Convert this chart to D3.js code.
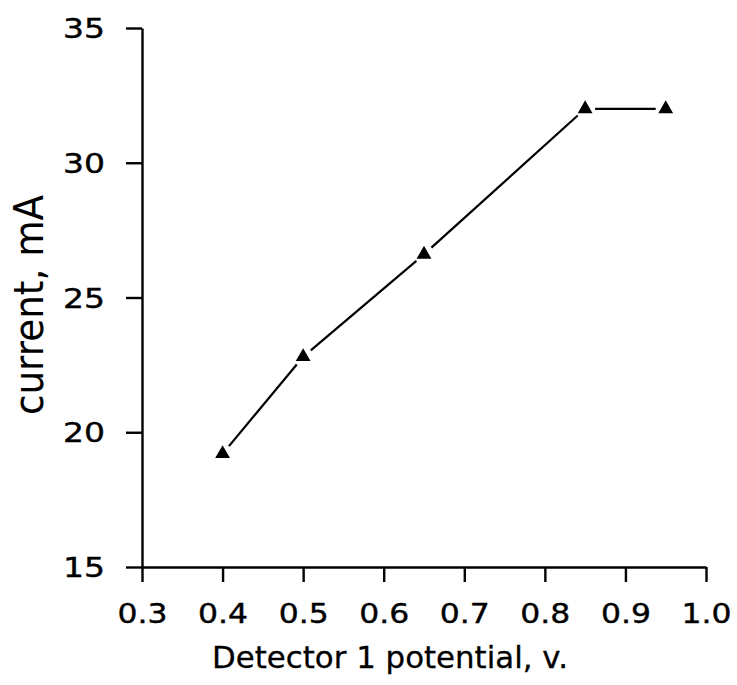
<!DOCTYPE html>
<html>
<head>
<meta charset="utf-8">
<script src="https://cdn.jsdelivr.net/npm/d3@7"></script>
<style>
  body { margin: 0; background: #fff; }
  text { font-family: "DejaVu Sans", sans-serif; fill: #000; }
</style>
</head>
<body>
<script>
// data
const potential = [0.4, 0.5, 0.65, 0.85, 0.95];
const current = [19.2, 22.8, 26.6, 32.0, 32.0];
const xTicks = [0.3, 0.4, 0.5, 0.6, 0.7, 0.8, 0.9, 1.0];
const yTicks = [15, 20, 25, 30, 35];

const width = 737, height = 685;
const svg = d3.select('body').append('svg')
    .attr('width', width)
    .attr('height', height);

const x = d3.scaleLinear().domain([0.3, 1.0]).range([142, 706]);
const y = d3.scaleLinear().domain([15, 35]).range([567, 28]);

// x axis
const xAxis = svg.append('g')
    .attr('transform', 'translate(0,' + y(15) + ')')
    .call(d3.axisBottom(x).tickValues(xTicks).tickSize(15).tickSizeOuter(0).tickFormat(d3.format('.1f')));

// y axis
const yAxis = svg.append('g')
    .attr('transform', 'translate(' + x(0.3) + ',0)')
    .call(d3.axisLeft(y).tickValues(yTicks).tickSize(16).tickSizeOuter(0).tickFormat(d3.format('d')));

[xAxis, yAxis].forEach(g => {
    g.select('.domain').attr('stroke', '#000').attr('stroke-width', 2.4);
    g.selectAll('.tick line').attr('stroke', '#000').attr('stroke-width', 2.4);
    g.selectAll('.tick text')
        .attr('font-size', 27)
        .attr('font-family', '"DejaVu Sans", sans-serif')
        .attr('fill', '#000')
        .attr('stroke', '#000')
        .attr('stroke-width', 0.4);
});
xAxis.selectAll('.tick text')
    .attr('y', 0).attr('dy', 0)
    .attr('transform', 'translate(0,56)')
    .attr('textLength', 50)
    .attr('lengthAdjust', 'spacingAndGlyphs');
yAxis.selectAll('.tick text')
    .attr('x', -37)
    .attr('dy', '0.36em')
    .attr('textLength', 42)
    .attr('lengthAdjust', 'spacingAndGlyphs');

// axis titles
svg.append('text')
    .attr('x', 212)
    .attr('y', 668)
    .attr('font-size', 30)
    .attr('stroke', '#000')
    .attr('stroke-width', 0.3)
    .attr('textLength', 356)
    .attr('lengthAdjust', 'spacingAndGlyphs')
    .text('Detector 1 potential, v.');

svg.append('text')
    .attr('transform', 'translate(43,415) rotate(-90)')
    .attr('font-size', 40)
    .attr('textLength', 220)
    .attr('lengthAdjust', 'spacingAndGlyphs')
    .text('current, mA');

// line segments with small gaps around the markers
const pts = potential.map((p, i) => [x(p), y(current[i])]);
const gap = 10;
const segs = d3.pairs(pts).map(([a, b]) => {
    const dx = b[0] - a[0], dy = b[1] - a[1];
    const len = Math.hypot(dx, dy);
    const ux = dx / len, uy = dy / len;
    return [a[0] + ux * gap, a[1] + uy * gap, b[0] - ux * gap, b[1] - uy * gap];
});

svg.append('g')
    .selectAll('line')
    .data(segs)
    .enter().append('line')
    .attr('x1', d => d[0])
    .attr('y1', d => d[1])
    .attr('x2', d => d[2])
    .attr('y2', d => d[3])
    .attr('stroke', '#000')
    .attr('stroke-width', 2.2);

// triangle markers
svg.append('g')
    .selectAll('path')
    .data(pts)
    .enter().append('path')
    .attr('d', d3.symbol().type(d3.symbolTriangle).size(95))
    .attr('transform', d => 'translate(' + d[0] + ',' + d[1] + ')')
    .attr('fill', '#000');
</script>
</body>
</html>
